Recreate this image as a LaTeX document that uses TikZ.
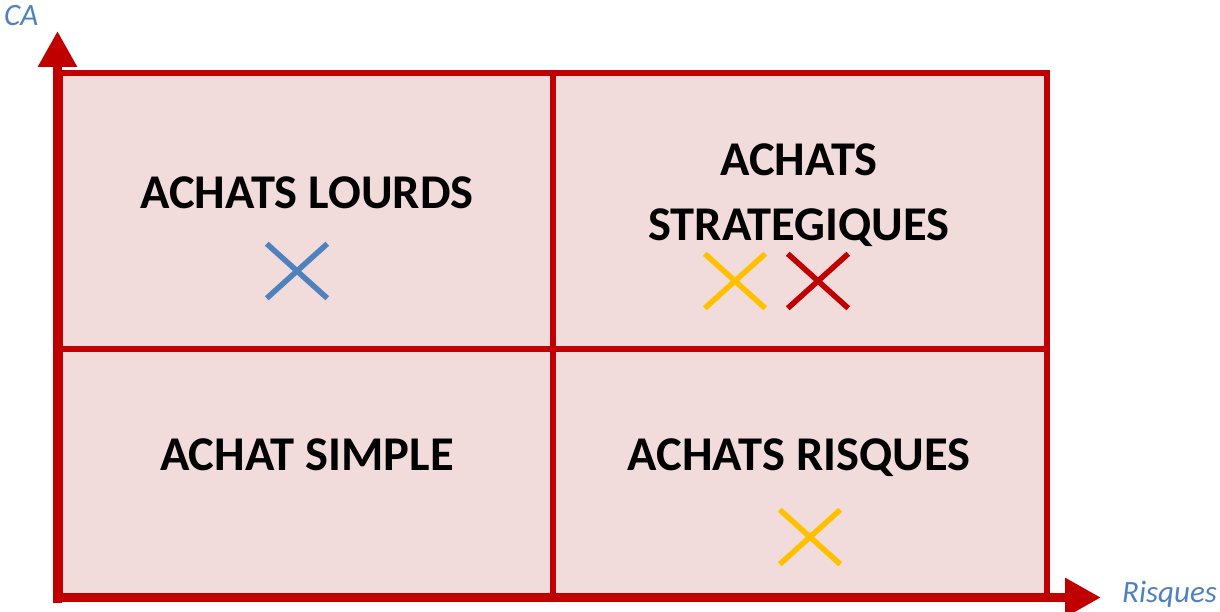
\documentclass[tikz,border=0pt]{standalone}
\usepackage{fontspec}
\setmainfont{Carlito}
\usetikzlibrary{arrows.meta,shapes.misc,positioning}
\definecolor{rouge}{HTML}{C00000}
\definecolor{rose}{HTML}{F2DCDB}
\definecolor{bleu}{HTML}{4F81BD}
\definecolor{jaune}{HTML}{FFC000}

\begin{document}
\begin{tikzpicture}[x=1pt,y=-1pt,
    quad/.style={font=\fontsize{48.5}{65}\selectfont\bfseries, anchor=base, align=center},
    axe/.style={rouge, line width=9pt, -{Triangle[length=36pt,width=37pt]}},
    axelbl/.style={bleu, font=\fontsize{31}{36}\selectfont\itshape},
    mark/.style={cross out, draw=#1, line width=5.5pt, minimum width=55pt, minimum height=49pt}]
    \tikzstyle{every node}+=[inner sep=0pt]
    \useasboundingbox (0,0) rectangle (1220,612);
    % cadre
    \draw [rouge, fill=rose, line width=6pt] (60,73) rectangle (1047,597);
    \draw [rouge, line width=6pt] (552.5,73) -- (552.5,597);
    \draw [rouge, line width=6pt] (60,348.5) -- (1047,348.5);
    % axes
    \coordinate (o) at (57.5,603);
    \coordinate (oh) at (53,597.5);
    \coordinate (ca) at (57.5,31);
    \coordinate (ri) at (1101,597.5);
    \draw [axe] (o) -- (ca);
    \draw [axe] (oh) -- (ri);
    \node [axelbl, anchor=base west] (calbl) at (4,26) {CA};
    \node [axelbl, anchor=base west] (rilbl) at (1122,602) {Risques};
    % quadrants
    \node [quad] (lourds) at (307,209) {ACHATS LOURDS};
    \node [quad] (strat) at (799,241) {ACHATS\\STRATEGIQUES};
    \node [quad] (simple) at (307,470) {ACHAT SIMPLE};
    \node [quad] (risques) at (799,470) {ACHATS RISQUES};
    % croix
    \node [mark=bleu] (x1) at (297,271) {};
    \node [mark=jaune] (x2) at (735,281) {};
    \node [mark=rouge] (x3) at (818,281) {};
    \node [mark=jaune] (x4) at (810,537) {};
\end{tikzpicture}
\end{document}
